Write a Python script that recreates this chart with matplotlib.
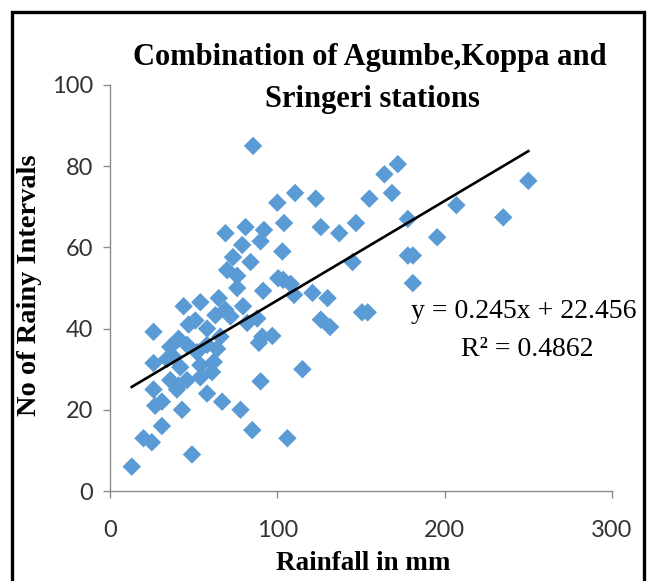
import matplotlib
matplotlib.use("Agg")
import matplotlib.pyplot as plt
import numpy as np
from matplotlib.patches import Rectangle

# ---- data ----
rainfall = [13, 20, 25, 31, 49, 27, 31, 43, 58, 67, 78, 85, 106, 90, 115,
            26, 40, 26, 34, 42, 54, 62, 61, 54, 46, 36, 41, 36, 41, 46,
            52, 26, 51, 58, 63, 72, 82, 88, 97, 89, 91, 44, 54, 65, 69,
            79.5, 76, 91.5, 70, 76, 84, 73.5, 79, 90, 103, 69, 81, 92, 104, 100,
            110.6, 85.5, 100.5, 108, 103.5, 110, 121, 130, 126, 131.5, 150.6, 154, 145, 137, 126,
            147, 123, 155, 164, 172, 168.5, 178, 178, 181, 181, 195.5, 207, 235, 250,
            58, 64, 47, 38, 66]
rainy_intervals = [6, 13, 12, 16, 9, 21, 22, 20, 24, 22, 20, 15, 13, 27, 30,
                   25, 25, 31.5, 32.5, 30.5, 31, 31.8, 29.3, 28, 27.3, 27.3, 26, 35.5, 37.5, 36,
                   34.2, 39.2, 42, 40, 43.3, 43, 41.4, 42.5, 38.2, 36.5, 38, 45.5, 46.5, 47.5, 44.6,
                   45.5, 50, 49.3, 54.4, 53, 56.4, 57.6, 60.6, 61.5, 59, 63.5, 65, 64.3, 66, 71,
                   73.4, 85, 52.4, 51, 52, 48.3, 48.8, 47.5, 42.2, 40.4, 44, 44, 56.4, 63.5, 65,
                   66, 72, 72, 78, 80.5, 73.4, 67, 58, 58, 51.2, 62.5, 70.4, 67.4, 76.4,
                   36, 35, 41, 33, 38]
slope = 0.245
intercept = 22.456
r_squared = 0.4862
x_ticks = [0, 100, 200, 300]
y_ticks = [0, 20, 40, 60, 80, 100]

W, H = 652, 581
fig = plt.figure(figsize=(W / 100, H / 100), dpi=100)
fig.patch.set_facecolor("white")

ax = fig.add_axes([110 / W, 1 - 491 / H, 502 / W, 406 / H])
ax.scatter(rainfall, rainy_intervals, marker="D", s=9.4 ** 2,
           color="#5B9BD5", edgecolors="none", zorder=3, clip_on=False)

xl = np.array([min(rainfall), max(rainfall)])
ax.plot(xl, slope * xl + intercept, color="black", lw=1.9, zorder=4)

ax.set_xlim(0, 300)
ax.set_ylim(0, 100)
ax.set_xticks(x_ticks)
ax.set_yticks(y_ticks)
for s in ["top", "right"]:
    ax.spines[s].set_visible(False)
for s in ["left", "bottom"]:
    ax.spines[s].set_color("#8C8C8C")
    ax.spines[s].set_linewidth(1.0)
ax.tick_params(axis="both", direction="out", length=5, width=1.0,
               color="#8C8C8C", labelcolor="#333333", labelsize=17)
ax.tick_params(axis="x", pad=16)
ax.tick_params(axis="y", pad=7)
for lab in ax.get_xticklabels() + ax.get_yticklabels():
    lab.set_family(["Lato", "DejaVu Sans"])

serif = ["Liberation Serif", "DejaVu Serif"]
fig.text(370 / W, 1 - 58 / H, "Combination of Agumbe,Koppa and",
         ha="center", va="center", fontsize=22, fontweight="bold", family=serif)
fig.text(372 / W, 1 - 100 / H, "Sringeri stations",
         ha="center", va="center", fontsize=22, fontweight="bold", family=serif)
fig.text(30 / W, 1 - 285 / H, "No of Rainy Intervals", rotation=90,
         ha="center", va="center", fontsize=20.5, fontweight="bold", family=serif)
fig.text(363 / W, 1 - 564 / H, "Rainfall in mm",
         ha="center", va="center", fontsize=19.5, fontweight="bold", family=serif)

fig.text(524 / W, 1 - 312 / H, f"y = {slope}x + {intercept}",
         ha="center", va="center", fontsize=20, family=serif)
fig.text(527 / W, 1 - 350 / H, f"R\u00b2 = {r_squared}",
         ha="center", va="center", fontsize=20, family=serif)

fig.patches.append(Rectangle((12 / W, -0.05), (644 - 12) / W, 1.05 - 12 / H,
                             transform=fig.transFigure, fill=False,
                             edgecolor="black", lw=2.4))

fig.savefig("out.png", dpi=100)
